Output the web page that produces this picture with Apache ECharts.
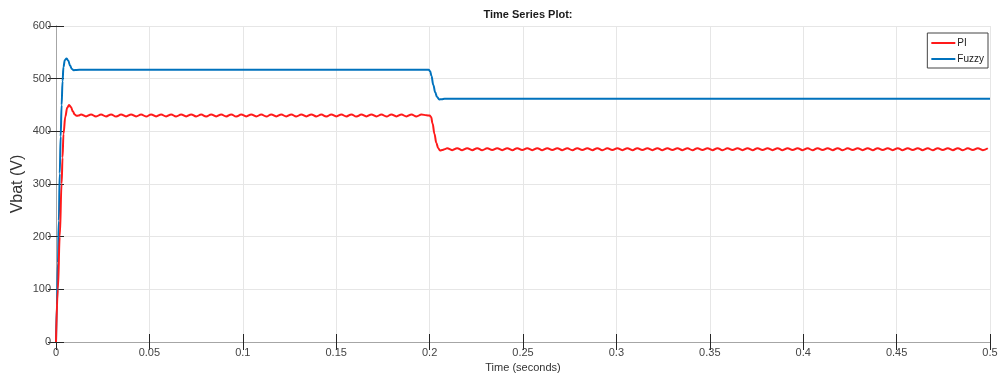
<!DOCTYPE html>
<html>
<head>
<meta charset="utf-8">
<script src="https://cdn.jsdelivr.net/npm/echarts@6/dist/echarts.min.js"></script>
<style>
  html, body { margin: 0; padding: 0; background: #fff; }
  #chart { width: 1003px; height: 374px; }
</style>
</head>
<body>
<div id="chart"></div>
<script>
// x ticks and y ticks
var xTicks = [0, 0.05, 0.1, 0.15, 0.2, 0.25, 0.3, 0.35, 0.4, 0.45, 0.5];
var yTicks = [0, 100, 200, 300, 400, 500, 600];

// PI: start-up transient
var piStartT = [0, 0.001, 0.002, 0.003, 0.0035, 0.004, 0.005, 0.006, 0.007, 0.008, 0.009, 0.010, 0.011, 0.012];
var piStartV = [0, 100, 200, 300, 350, 395, 428, 445, 450, 446, 438, 432, 429.5, 430];

// PI: ripple 0.0134 .. 0.2 (one value every half ripple period)
var rippleStep = 0.00268;
var piRipple1Start = 0.0134;
var piRipple1 = [
  431.8, 428.4, 432.0, 428.2, 431.9, 428.3, 432.1, 428.2, 431.8, 428.4,
  432.0, 428.3, 431.9, 428.2, 432.1, 428.4, 431.8, 428.3, 432.0, 428.2,
  431.9, 428.4, 432.1, 428.3, 431.8, 428.2, 432.0, 428.4, 431.9, 428.3,
  432.1, 428.2, 431.8, 428.4, 432.0, 428.3, 431.9, 428.2, 432.1, 428.4,
  431.8, 428.3, 432.0, 428.2, 431.9, 428.4, 432.1, 428.3, 431.8, 428.2,
  432.0, 428.4, 431.9, 428.3, 432.1, 428.2, 431.8, 428.4, 432.0, 428.3,
  431.9, 428.2, 432.1, 428.4, 431.8, 428.3, 432.0, 428.2, 431.9, 430.5
];

// PI: step down at 0.2 s
var piDropT = [0.2, 0.2008, 0.2016, 0.2026, 0.2036, 0.2046, 0.2056, 0.2068, 0.208];
var piDropV = [430, 427, 415, 395, 378, 368, 363.5, 364.5, 366];

// PI: ripple 0.2094 .. 0.5
var piRipple2Start = 0.2094;
var piRipple2 = [
  367.8, 364.3, 368.0, 364.2, 367.9, 364.3, 368.1, 364.2, 367.8, 364.4,
  368.0, 364.3, 367.9, 364.2, 368.1, 364.4, 367.8, 364.3, 368.0, 364.2,
  367.9, 364.4, 368.1, 364.3, 367.8, 364.2, 368.0, 364.4, 367.9, 364.3,
  368.1, 364.2, 367.8, 364.4, 368.0, 364.3, 367.9, 364.2, 368.1, 364.4,
  367.8, 364.3, 368.0, 364.2, 367.9, 364.4, 368.1, 364.3, 367.8, 364.2,
  368.0, 364.4, 367.9, 364.3, 368.1, 364.2, 367.8, 364.4, 368.0, 364.3,
  367.9, 364.2, 368.1, 364.4, 367.8, 364.3, 368.0, 364.2, 367.9, 364.4,
  368.1, 364.3, 367.8, 364.2, 368.0, 364.4, 367.9, 364.3, 368.1, 364.2,
  367.8, 364.4, 368.0, 364.3, 367.9, 364.2, 368.1, 364.4, 367.8, 364.3,
  368.0, 364.2, 367.9, 364.4, 368.1, 364.3, 367.8, 364.2, 368.0, 364.4,
  367.9, 364.3, 368.1, 364.2, 367.8, 364.4, 368.0, 364.3, 367.9
];

// Fuzzy
var fuzzyT = [0, 0.0005, 0.001, 0.0015, 0.002, 0.0025, 0.003, 0.0035, 0.004, 0.0047, 0.0057, 0.0066, 0.0075, 0.0085, 0.0095, 0.011, 0.014,
  0.1995, 0.2003, 0.201, 0.202, 0.203, 0.204, 0.2052, 0.2065, 0.208, 0.5];
var fuzzyV = [0, 70, 150, 230, 320, 390, 450, 495, 522, 535, 538.5, 534, 525, 518.5, 516, 516.5, 517,
  517, 514, 505, 488, 474, 465, 460.5, 461, 462, 462];

function pairs(t, v) {
  var out = [];
  for (var i = 0; i < t.length; i++) out.push([t[i], v[i]]);
  return out;
}
function ripple(start, vals) {
  var out = [];
  for (var i = 0; i < vals.length; i++) out.push([start + i * rippleStep, vals[i]]);
  return out;
}

var piData = pairs(piStartT, piStartV)
  .concat(ripple(piRipple1Start, piRipple1))
  .concat(pairs(piDropT, piDropV))
  .concat(ripple(piRipple2Start, piRipple2));
var fuzzyData = pairs(fuzzyT, fuzzyV);

var chart = echarts.init(document.getElementById('chart'));
var font = 'Liberation Sans, Arial, sans-serif';
var tickStyle = { color: '#262626', width: 1 };
var boxLine = { color: '#a6a6a6', width: 1 };
var gridLine = { color: '#e6e6e6', width: 1 };

var option = {
  animation: false,
  backgroundColor: '#fff',
  title: {
    text: 'Time Series Plot:',
    left: 523,
    textAlign: 'center',
    top: 4,
    textStyle: { fontFamily: font, fontSize: 11, fontWeight: 'bold', color: '#1a1a1a' }
  },
  legend: {
    data: ['PI', 'Fuzzy'],
    orient: 'vertical',
    right: 15,
    top: 33,
    itemWidth: 24,
    itemHeight: 2,
    itemGap: 6,
    icon: 'rect',
    padding: [5, 4, 4, 4],
    borderColor: '#444',
    borderWidth: 1,
    backgroundColor: '#fff',
    textStyle: { fontFamily: font, fontSize: 10, color: '#222', padding: [0, 0, 0, -3] }
  },
  grid: { left: 56, right: 13, top: 26, bottom: 32, containLabel: false, outerBoundsMode: 'none' },
  xAxis: [{
    type: 'value',
    min: 0, max: 0.5, interval: 0.05,
    name: 'Time (seconds)',
    nameLocation: 'middle',
    nameGap: 20,
    nameMoveOverlap: false,
    nameTextStyle: { fontFamily: font, fontSize: 11, color: '#333' },
    axisLine: { show: true, lineStyle: boxLine },
    axisTick: { show: true, inside: true, length: 8, lineStyle: tickStyle },
    axisLabel: {
      fontFamily: font, fontSize: 11, color: '#444', margin: 5,
      formatter: function (v) { return String(+v.toFixed(2)); }
    },
    splitLine: { show: true, lineStyle: gridLine }
  }, {
    type: 'value',
    position: 'top',
    min: 0, max: 0.5, interval: 0.05,
    axisLine: { show: true, lineStyle: boxLine },
    axisTick: { show: true, inside: true, length: 8, lineStyle: tickStyle },
    axisLabel: { show: false },
    splitLine: { show: false }
  }],
  yAxis: [{
    type: 'value',
    min: 0, max: 600, interval: 100,
    name: 'Vbat (V)',
    nameLocation: 'middle',
    nameGap: 30,
    nameMoveOverlap: false,
    nameTextStyle: { fontFamily: font, fontSize: 16, color: '#333' },
    axisLine: { show: true, lineStyle: boxLine },
    axisTick: { show: true, inside: true, length: 8, lineStyle: tickStyle },
    axisLabel: { fontFamily: font, fontSize: 11, color: '#444', margin: 5 },
    splitLine: { show: true, lineStyle: gridLine }
  }, {
    type: 'value',
    position: 'right',
    min: 0, max: 600, interval: 100,
    axisLine: { show: true, lineStyle: boxLine },
    axisTick: { show: true, inside: true, length: 8, lineStyle: tickStyle },
    axisLabel: { show: false },
    splitLine: { show: false }
  }],
  series: [{
    name: 'PI',
    type: 'line',
    data: piData,
    showSymbol: false,
    smooth: 0.4,
    smoothMonotone: 'x',
    lineStyle: { color: '#ff1a1a', width: 2 },
    itemStyle: { color: '#ff1a1a' },
    z: 3
  }, {
    name: 'Fuzzy',
    type: 'line',
    data: fuzzyData,
    showSymbol: false,
    smooth: 0.4,
    smoothMonotone: 'x',
    lineStyle: { color: '#0072bd', width: 2 },
    itemStyle: { color: '#0072bd' },
    z: 2
  }]
};

chart.setOption(option);
window.addEventListener('resize', function () {
  chart.resize();
});
</script>
</body>
</html>
